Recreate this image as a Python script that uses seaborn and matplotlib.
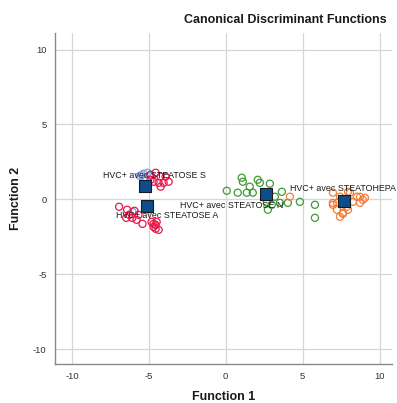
import matplotlib
matplotlib.use("Agg")
import matplotlib.pyplot as plt
import seaborn as sns
import pandas as pd

# Discriminant scores per case (Function 1, Function 2), by group
groups = ["HVC+ avec STEATOSE S", "HVC+ avec STEATOSE A",
          "HVC+ avec STEATOSE N", "HVC+ avec STEATOHEPA"]

s_f1 = [-5.60, -5.34, -5.08, -4.89, -5.21, -6.06, -5.45]
s_f2 = [1.57, 1.71, 1.77, 1.57, 1.44, -0.84, 1.60]

a_f1 = [-4.89, -4.56, -4.23, -3.91, -3.71, -4.36, -4.69, -4.23, -4.89, -4.04,
        -6.93, -6.41, -6.28, -6.08, -6.47, -5.67, -4.82, -4.56, -4.36, -4.69,
        -4.49, -5.80, -5.41, -5.93, -4.69, -4.56]
a_f2 = [1.64, 1.77, 1.51, 1.51, 1.17, 1.10, 1.17, 0.84, 1.30, 1.10,
        -0.50, -0.70, -1.04, -1.24, -1.24, -1.04, -1.51, -1.71, -2.04, -1.84,
        -1.51, -1.37, -1.64, -0.77, -1.64, -1.97]

n_f1 = [0.07, 0.78, 1.04, 1.11, 1.56, 2.08, 2.22, 2.87, 1.37, 1.76,
        3.19, 3.65, 2.67, 2.99, 3.52, 2.74, 4.82, 5.80, 5.80, 4.04]
n_f2 = [0.57, 0.44, 1.44, 1.17, 0.84, 1.30, 1.10, 1.04, 0.44, 0.44,
        0.17, 0.50, -0.24, -0.37, -0.24, -0.70, -0.17, -0.37, -1.24, -0.24]

h_f1 = [4.17, 6.97, 7.23, 7.43, 7.88, 8.08, 8.53, 8.92, 8.73, 7.23,
        7.62, 7.95, 7.43, 7.95, 8.27, 6.97, 8.73, 9.05, 6.97, 7.62]
h_f2 = [0.17, 0.44, -0.24, 0.17, -0.50, 0.44, 0.17, -0.04, 0.17, -0.70,
        -0.90, -0.70, -1.17, 0.50, -0.17, -0.37, -0.24, 0.10, -0.24, -0.97]

# Group centroids
cen_f1 = [-5.28, -5.15, 2.60, 7.69]
cen_f2 = [0.90, -0.43, 0.37, -0.10]

palette = ["#7e9fe0", "#e8174a", "#3f9a37", "#f57c35"]

cases = pd.DataFrame({
    "Function 1": s_f1 + a_f1 + n_f1 + h_f1,
    "Function 2": s_f2 + a_f2 + n_f2 + h_f2,
    "Group": [groups[0]] * len(s_f1) + [groups[1]] * len(a_f1)
             + [groups[2]] * len(n_f1) + [groups[3]] * len(h_f1),
})
centroids = pd.DataFrame({"Function 1": cen_f1, "Function 2": cen_f2, "Group": groups})

sns.set_theme(style="white")
plt.rcParams["font.family"] = ["Liberation Sans", "DejaVu Sans"]
plt.rcParams["axes.unicode_minus"] = False

fig = plt.figure(figsize=(3.97, 4.03), dpi=100)
ax = fig.add_axes([0.1385, 0.0968, 0.8485, 0.8212])

ax.grid(True, color="#d6d6d6", linewidth=0.9, zorder=0)
ax.set_axisbelow(True)

for g, c in zip(groups, palette):
    sub = cases[cases["Group"] == g]
    sns.scatterplot(data=sub, x="Function 1", y="Function 2", ax=ax,
                    marker="o", s=26, facecolors="none", edgecolor=c,
                    linewidth=0.9, legend=False, zorder=3)

sns.scatterplot(data=centroids, x="Function 1", y="Function 2", ax=ax,
                marker="s", s=70, color="#0f4c8c", edgecolor="#1a1a1a",
                linewidth=0.8, legend=False, zorder=5)

label_offsets = [(-30, 7.2), (-22.3, -7.2), (-62, -8.6), (-38.9, 8.6)]
for g, fx, fy, off in zip(groups, cen_f1, cen_f2, label_offsets):
    ax.annotate(g, xy=(fx, fy), xytext=off, textcoords="offset points",
                ha="left", va="center", fontsize=6.4, color="#1a1a1a", zorder=6)

ax.set_xlim(-11.1, 10.8)
ax.set_ylim(-11.0, 11.1)
ax.set_xticks([-10, -5, 0, 5, 10])
ax.set_yticks([-10, -5, 0, 5, 10])
ax.tick_params(axis="both", labelsize=6.8, colors="#333333", length=0, pad=6)

for side in ["top", "right"]:
    ax.spines[side].set_visible(False)
for side in ["left", "bottom"]:
    ax.spines[side].set_color("#8a8a8a")
    ax.spines[side].set_linewidth(1.0)

ax.set_xlabel("Function 1", fontsize=9, fontweight="bold", color="#1a1a1a", labelpad=7)
ax.set_ylabel("Function 2", fontsize=9, fontweight="bold", color="#1a1a1a", labelpad=8)

fig.text(0.975, 0.950, "Canonical Discriminant Functions", ha="right", va="center",
         fontsize=9, fontweight="bold", color="#1a1a1a")

fig.savefig("out.png", dpi=100)
